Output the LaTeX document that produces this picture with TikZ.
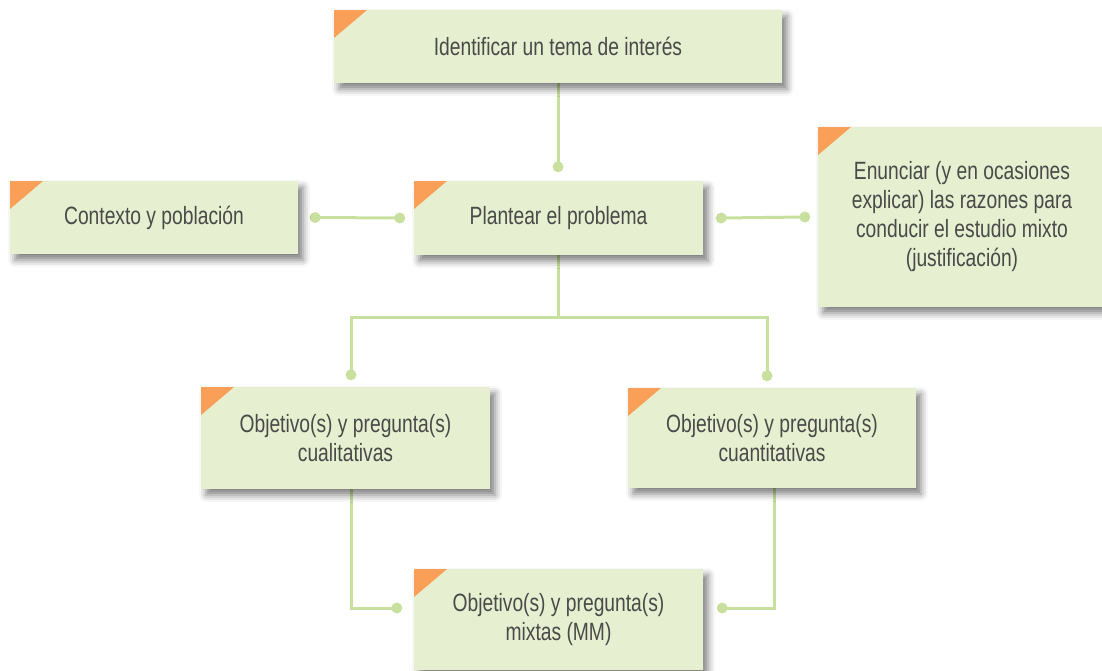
\documentclass[tikz,border=0pt]{standalone}
\usepackage{fontspec}
\setmainfont[FakeStretch=0.77]{Liberation Sans}
\usetikzlibrary{shadows.blur,calc,backgrounds}
\definecolor{boxfill}{HTML}{E6EFCF}
\definecolor{linegreen}{HTML}{C8E09E}
\definecolor{corner}{HTML}{F99F57}
\definecolor{txt}{HTML}{4A4A4A}
\tikzset{
  card/.style={fill=boxfill, inner sep=0pt, align=center, text=txt,
    font=\fontsize{25}{29}\selectfont,
    blur shadow={shadow xshift=5pt, shadow yshift=-6pt, shadow blur radius=7pt, shadow opacity=50},
    path picture={\fill[corner] (path picture bounding box.north west) -- ++(33pt,0pt) -- ++(-33pt,-28pt) -- cycle;}},
  link/.style={draw=linegreen, line width=3pt},
  dot/.style={circle, fill=linegreen, inner sep=0pt, minimum size=11pt},
}
\begin{document}
\begin{tikzpicture}[x=1pt,y=1pt]
\useasboundingbox (0,0) rectangle (1102,-670);
\clip (0,0) rectangle (1102,-670);
\node[card, minimum width=448pt, minimum height=73pt] (top) at (558,-46.5) {Identificar un tema de interés};
\node[card, minimum width=288pt, minimum height=73pt] (ctx) at (154,-217.5) {Contexto y población};
\node[card, minimum width=289pt, minimum height=74pt] (plan) at (558.5,-218) {Plantear el problema};
\node[card, minimum width=288pt, minimum height=180pt] (enun) at (962,-217) {Enunciar (y en ocasiones\\explicar) las razones para\\conducir el estudio mixto\\(justificación)};
\node[card, minimum width=289pt, minimum height=102pt] (cual) at (345.5,-438) {Objetivo(s) y pregunta(s)\\cualitativas};
\node[card, minimum width=288pt, minimum height=100pt] (cuant) at (772,-438) {Objetivo(s) y pregunta(s)\\cuantitativas};
\node[card, minimum width=289pt, minimum height=101pt] (mix) at (558.5,-619.5) {Objetivo(s) y pregunta(s)\\mixtas (MM)};
\begin{pgfonlayer}{background}
  % top -> plan
  \draw[link] (top.south) -- ($(plan.north)+(-0.5pt,14pt)$) node[dot] {};
  % ctx -- plan
  \draw[link] ($(ctx.east)+(17pt,0pt)$) node[dot] {} -- ($(plan.west)+(-14pt,0pt)$) node[dot] {};
  % plan -- enun
  \draw[link] ($(plan.east)+(18pt,0pt)$) node[dot] {} -- ($(enun.west)+(-13pt,0pt)$) node[dot] {};
  % plan -> cual / cuant
  \draw[link] ($(plan.south)+(-0.5pt,0pt)$) -- ($(plan.south)+(-0.5pt,-62pt)$) coordinate (fork);
  \coordinate (dcual) at ($(cual.north)+(5.5pt,12pt)$);
  \coordinate (dcuant) at ($(cuant.north)+(-5pt,12pt)$);
  \draw[link] (dcual) |- (fork) -| (dcuant);
  \node[dot] at (dcual) {};
  \node[dot] at (dcuant) {};
  % cual/cuant -> mix
  \coordinate (dmixL) at ($(mix.west)+(-17pt,11.5pt)$);
  \coordinate (dmixR) at ($(mix.east)+(19pt,11.5pt)$);
  \draw[link] ($(cual.south)+(5.5pt,0pt)$) |- (dmixL);
  \draw[link] ($(cuant.south)+(2pt,0pt)$) |- (dmixR);
  \node[dot] at (dmixL) {};
  \node[dot] at (dmixR) {};
\end{pgfonlayer}
\end{tikzpicture}
\end{document}
